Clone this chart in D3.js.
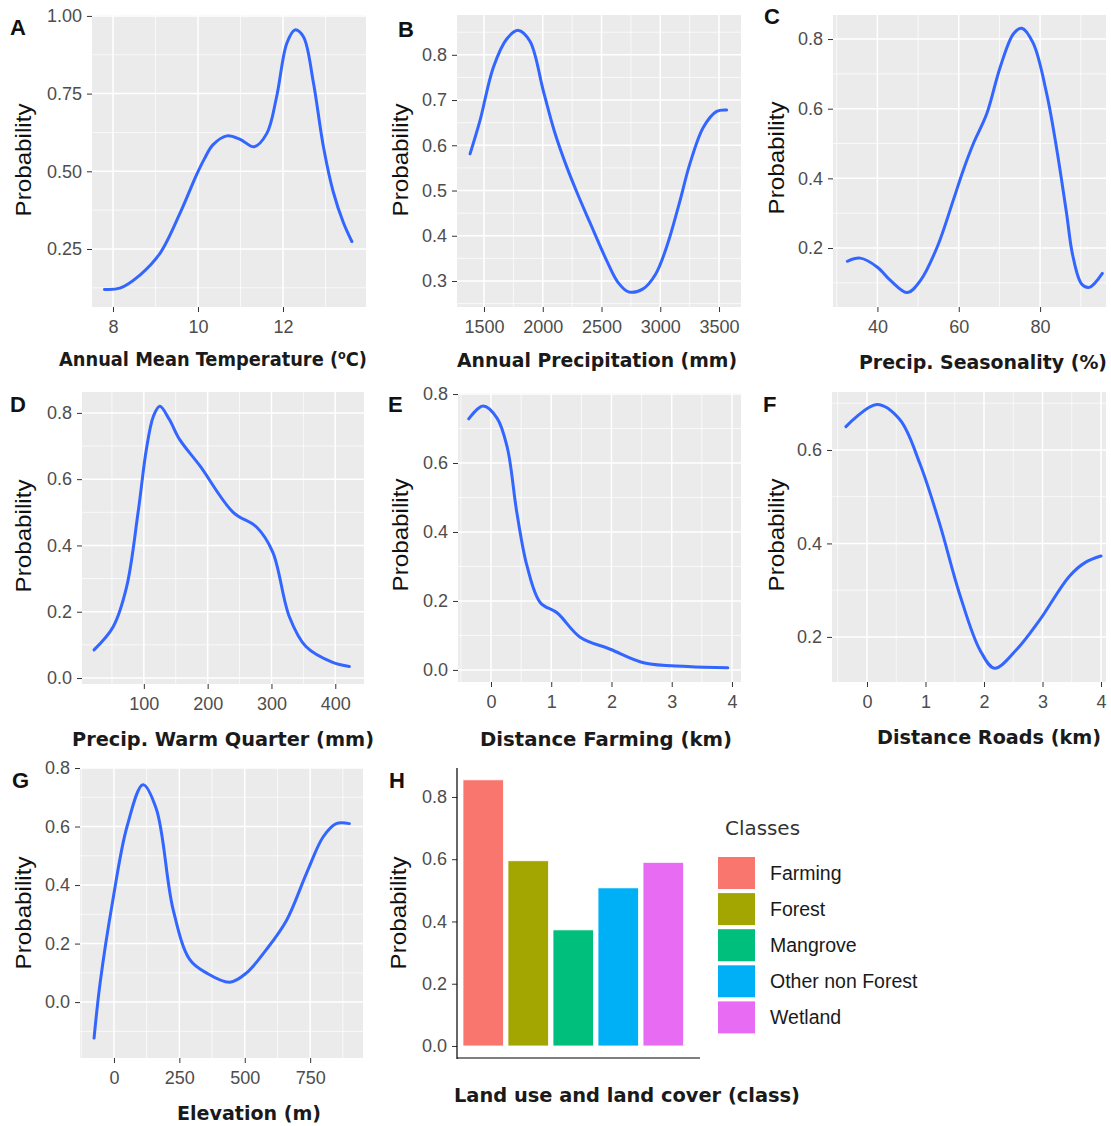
<!DOCTYPE html>
<html>
<head>
<meta charset="utf-8">
<script src="https://cdn.jsdelivr.net/npm/d3@7"></script>
<style>
  body { margin: 0; background: #fff; }
  .tick text { font-family: "Liberation Sans", Arial, sans-serif; fill: #4d4d4d; }
  .tick line { stroke: #333; }
  .xtitle { font-family: "DejaVu Sans Condensed", "DejaVu Sans", sans-serif; font-stretch: condensed; font-weight: bold; fill: #1a1a1a; }
  .ytitle { font-family: "Liberation Sans", Arial, sans-serif; fill: #111; }
  .letter { font-family: "Liberation Sans", Arial, sans-serif; font-weight: bold; fill: #111; }
</style>
</head>
<body>
<svg id="chart" width="1111" height="1126"></svg>
<script>
// A - annual mean temperature
var tempX = [7.8, 8.16, 8.64, 9.11, 9.58, 9.97, 10.15, 10.35, 10.68, 10.99, 11.32, 11.62, 11.85, 12.09, 12.28, 12.48, 12.71, 12.95, 13.18, 13.42, 13.62]
var tempY = [0.120, 0.124, 0.167, 0.237, 0.366, 0.49, 0.54, 0.585, 0.614, 0.603, 0.579, 0.622, 0.740, 0.912, 0.955, 0.933, 0.79, 0.58, 0.435, 0.335, 0.274]
// B - annual precipitation
var precX = [1381, 1466, 1579, 1693, 1792, 1891, 2005, 2100, 2200, 2300, 2400, 2544, 2640, 2730, 2850, 2960, 3060, 3160, 3253, 3367, 3480, 3565]
var precY = [0.581, 0.655, 0.772, 0.835, 0.854, 0.83, 0.72, 0.63, 0.555, 0.49, 0.43, 0.345, 0.297, 0.276, 0.282, 0.315, 0.38, 0.47, 0.56, 0.64, 0.675, 0.678]
// C - precipitation seasonality
var seasX = [32.6, 35.8, 40, 43.2, 47.4, 50.6, 54.7, 58.7, 61, 63.6, 66.9, 70.2, 73.5, 75.5, 78.3, 81.6, 84.1, 86.5, 88, 90.2, 92.1, 95.3]
var seasY = [0.162, 0.171, 0.145, 0.107, 0.072, 0.107, 0.203, 0.339, 0.42, 0.50, 0.586, 0.72, 0.816, 0.831, 0.788, 0.644, 0.483, 0.30, 0.18, 0.097, 0.087, 0.127]
// D - precipitation of warmest quarter
var warmX = [22, 52, 73, 91, 104, 115, 125, 140, 156, 188, 240, 277, 302, 328, 354, 395, 422]
var warmY = [0.085, 0.155, 0.275, 0.50, 0.69, 0.79, 0.82, 0.78, 0.72, 0.64, 0.50, 0.455, 0.38, 0.185, 0.095, 0.048, 0.035]
// E - distance to farming
var farmX = [-0.37, -0.13, 0.1, 0.27, 0.43, 0.6, 0.82, 1.1, 1.48, 1.98, 2.55, 3.27, 3.93]
var farmY = [0.728, 0.765, 0.73, 0.645, 0.455, 0.30, 0.195, 0.165, 0.095, 0.06, 0.02, 0.01, 0.006]
// F - distance to roads
var roadX = [-0.36, 0.17, 0.56, 0.9, 1.24, 1.58, 1.93, 2.18, 2.55, 2.95, 3.46, 3.74, 4.0]
var roadY = [0.65, 0.697, 0.665, 0.572, 0.443, 0.293, 0.172, 0.133, 0.172, 0.236, 0.33, 0.36, 0.373]
// G - elevation
var elevX = [-76, -53, -4, 50, 111, 162, 226, 290, 353, 443, 507, 583, 660, 736, 800, 850, 900]
var elevY = [-0.123, 0.065, 0.35, 0.6, 0.743, 0.66, 0.317, 0.145, 0.1, 0.068, 0.1, 0.18, 0.28, 0.44, 0.565, 0.61, 0.61]
// H - land use / land cover
var classes = ['Farming', 'Forest', 'Mangrove', 'Other non Forest', 'Wetland']
var classProb = [0.855, 0.595, 0.373, 0.508, 0.59]
var classColors = ['#F8766D', '#A3A500', '#00BF7D', '#00B0F6', '#E76BF3']

var svg = d3.select('#chart')

function minors(ticks, dom) {
    var step = ticks[1] - ticks[0]
    var out = []
    for (var i = -1; i < ticks.length; i++) {
        var v = ticks[0] + step * i + step / 2
        if (v > dom[0] && v < dom[1]) out.push(v)
    }
    return out
}

function panel(p) {
    var g = svg.append('g')
    var x = d3.scaleLinear().domain(p.xDom).range([p.box[0], p.box[1]])
    var y = d3.scaleLinear().domain(p.yDom).range([p.box[3], p.box[2]])

    g.append('rect')
        .attr('x', p.box[0]).attr('y', p.box[2])
        .attr('width', p.box[1] - p.box[0]).attr('height', p.box[3] - p.box[2])
        .attr('fill', '#ebebeb')

    // minor grid
    g.selectAll('.vmin').data(minors(p.xTicks, p.xDom)).enter().append('line')
        .attr('x1', x).attr('x2', x).attr('y1', p.box[2]).attr('y2', p.box[3])
        .attr('stroke', '#fff').attr('stroke-width', 0.7)
    g.selectAll('.hmin').data(minors(p.yTicks, p.yDom)).enter().append('line')
        .attr('y1', y).attr('y2', y).attr('x1', p.box[0]).attr('x2', p.box[1])
        .attr('stroke', '#fff').attr('stroke-width', 0.7)
    // major grid
    g.selectAll('.vmaj').data(p.xTicks).enter().append('line')
        .attr('x1', x).attr('x2', x).attr('y1', p.box[2]).attr('y2', p.box[3])
        .attr('stroke', '#fff').attr('stroke-width', 1.5)
    g.selectAll('.hmaj').data(p.yTicks).enter().append('line')
        .attr('y1', y).attr('y2', y).attr('x1', p.box[0]).attr('x2', p.box[1])
        .attr('stroke', '#fff').attr('stroke-width', 1.5)

    var ya = g.append('g').attr('transform', 'translate(' + p.box[0] + ',0)')
        .call(d3.axisLeft(y).tickValues(p.yTicks).tickSize(5).tickPadding(5).tickFormat(d3.format(p.yFmt)))
    var xa = g.append('g').attr('transform', 'translate(0,' + p.box[3] + ')')
        .call(d3.axisBottom(x).tickValues(p.xTicks).tickSize(5).tickPadding(8).tickFormat(d3.format(p.xFmt)))
    ya.select('.domain').remove()
    xa.select('.domain').remove()
    ya.selectAll('text').style('font-size', '18px')
    xa.selectAll('text').style('font-size', '18px')

    var pts = p.xs.map(function(v, i) { return [v, p.ys[i]] })
    var line = d3.line()
        .x(function(d) { return x(d[0]) })
        .y(function(d) { return y(d[1]) })
        .curve(d3.curveCatmullRom.alpha(0.5))
    g.append('path').attr('d', line(pts))
        .attr('fill', 'none').attr('stroke', '#3366ff').attr('stroke-width', 3)
        .attr('stroke-linecap', 'round')

    labels(p)
}

function labels(p) {
    svg.append('text').attr('class', 'letter')
        .attr('x', p.letterPos[0]).attr('y', p.letterPos[1])
        .style('font-size', '22px').text(p.letter)
    svg.append('text').attr('class', 'ytitle')
        .attr('transform', 'translate(' + p.yTitlePos[0] + ',' + p.yTitlePos[1] + ') rotate(-90)')
        .attr('text-anchor', 'middle').attr('dy', '0.35em')
        .attr('textLength', 113).attr('lengthAdjust', 'spacingAndGlyphs')
        .style('font-size', '22px').text('Probability')
    var t = svg.append('text').attr('class', 'xtitle')
        .attr('x', p.xTitlePos[0]).attr('y', p.xTitlePos[1])
        .attr('text-anchor', 'middle').style('font-size', '19px')
        .attr('textLength', p.xTitleLen).attr('lengthAdjust', 'spacingAndGlyphs')
    if (p.xTitle2) {
        t.append('tspan').text(p.xTitle)
        t.append('tspan').attr('dy', -7).style('font-size', '12px').text('o')
        t.append('tspan').attr('dy', 7).text(p.xTitle2)
    } else {
        t.text(p.xTitle)
    }
}

var panels = [
    { letter: 'A', letterPos: [10, 35], box: [92, 366, 15, 307], xDom: [7.506, 13.953], yDom: [0.0633, 1.003],
      xTicks: [8, 10, 12], yTicks: [0.25, 0.5, 0.75, 1.0], xFmt: 'd', yFmt: '.2f', xs: tempX, ys: tempY,
      xTitle: 'Annual Mean Temperature (', xTitle2: 'C)', xTitlePos: [213, 366], xTitleLen: 308, yTitlePos: [23, 160] },
    { letter: 'B', letterPos: [398, 37], box: [457, 741, 15, 307], xDom: [1270, 3687], yDom: [0.2425, 0.888],
      xTicks: [1500, 2000, 2500, 3000, 3500], yTicks: [0.3, 0.4, 0.5, 0.6, 0.7, 0.8], xFmt: 'd', yFmt: '.1f', xs: precX, ys: precY,
      xTitle: 'Annual Precipitation (mm)', xTitlePos: [597, 367], xTitleLen: 280, yTitlePos: [400, 160] },
    { letter: 'C', letterPos: [764, 24], box: [833, 1106, 15, 307], xDom: [29.08, 96.2], yDom: [0.0307, 0.869],
      xTicks: [40, 60, 80], yTicks: [0.2, 0.4, 0.6, 0.8], xFmt: 'd', yFmt: '.1f', xs: seasX, ys: seasY,
      xTitle: 'Precip. Seasonality (%)', xTitlePos: [983, 369], xTitleLen: 248, yTitlePos: [776, 158] },
    { letter: 'D', letterPos: [10, 412], box: [82, 364, 392, 684], xDom: [3.1, 445], yDom: [-0.018, 0.863],
      xTicks: [100, 200, 300, 400], yTicks: [0, 0.2, 0.4, 0.6, 0.8], xFmt: 'd', yFmt: '.1f', xs: warmX, ys: warmY,
      xTitle: 'Precip. Warm Quarter (mm)', xTitlePos: [223, 746], xTitleLen: 302, yTitlePos: [23, 536] },
    { letter: 'E', letterPos: [388, 412], box: [458, 741, 393, 682], xDom: [-0.548, 4.15], yDom: [-0.035, 0.803],
      xTicks: [0, 1, 2, 3, 4], yTicks: [0, 0.2, 0.4, 0.6, 0.8], xFmt: 'd', yFmt: '.1f', xs: farmX, ys: farmY,
      xTitle: 'Distance Farming (km)', xTitlePos: [606, 746], xTitleLen: 252, yTitlePos: [400, 535] },
    { letter: 'F', letterPos: [763, 412], box: [832, 1106, 392, 682], xDom: [-0.598, 4.085], yDom: [0.1035, 0.724],
      xTicks: [0, 1, 2, 3, 4], yTicks: [0.2, 0.4, 0.6], xFmt: 'd', yFmt: '.1f', xs: roadX, ys: roadY,
      xTitle: 'Distance Roads (km)', xTitlePos: [989, 744], xTitleLen: 224, yTitlePos: [776, 535] },
    { letter: 'G', letterPos: [12, 788], box: [80, 363, 768, 1058], xDom: [-129.8, 952], yDom: [-0.191, 0.8],
      xTicks: [0, 250, 500, 750], yTicks: [0, 0.2, 0.4, 0.6, 0.8], xFmt: 'd', yFmt: '.1f', xs: elevX, ys: elevY,
      xTitle: 'Elevation (m)', xTitlePos: [249, 1120], xTitleLen: 144, yTitlePos: [23, 913] }
]

panels.forEach(panel)

// H - bar chart
var hx = d3.scaleBand().domain(classes).range([456, 690.5]).paddingInner(0.1).paddingOuter(0.155)
var hy = d3.scaleLinear().domain([-0.0386, 0.893]).range([1058, 768])
var hc = d3.scaleOrdinal().domain(classes).range(classColors)
var gh = svg.append('g')

gh.selectAll('.bar').data(classes).enter().append('rect')
    .attr('x', function(d) { return hx(d) })
    .attr('width', hx.bandwidth())
    .attr('y', function(d, i) { return hy(classProb[i]) })
    .attr('height', function(d, i) { return hy(0) - hy(classProb[i]) })
    .attr('fill', function(d) { return hc(d) })
    .attr('stroke', '#fff').attr('stroke-width', 0.8)

var hya = gh.append('g').attr('transform', 'translate(457,0)')
    .call(d3.axisLeft(hy).tickValues([0, 0.2, 0.4, 0.6, 0.8]).tickSize(5).tickPadding(5).tickFormat(d3.format('.1f')))
hya.select('.domain').remove()
hya.selectAll('text').style('font-size', '18px')
gh.append('line').attr('x1', 457).attr('x2', 457).attr('y1', 768).attr('y2', 1059)
    .attr('stroke', '#000').attr('stroke-width', 1.2)
gh.append('line').attr('x1', 457).attr('x2', 700).attr('y1', 1058).attr('y2', 1058)
    .attr('stroke', '#000').attr('stroke-width', 1.2)

labels({ letter: 'H', letterPos: [389, 788], yTitlePos: [398, 913],
    xTitle: 'Land use and land cover (class)', xTitlePos: [627, 1102], xTitleLen: 346 })

// legend
var lg = svg.append('g')
lg.append('text').attr('x', 725).attr('y', 835)
    .attr('class', 'xtitle').style('font-weight', 'normal').style('fill', '#333').style('font-size', '19px')
    .attr('textLength', 75).attr('lengthAdjust', 'spacingAndGlyphs')
    .text('Classes')
lg.selectAll('.key').data(classes).enter().append('rect')
    .attr('x', 718).attr('y', function(d, i) { return 857 + i * 36.1 })
    .attr('width', 37).attr('height', 32)
    .attr('fill', function(d) { return hc(d) })
lg.selectAll('.lab').data(classes).enter().append('text')
    .attr('x', 770).attr('y', function(d, i) { return 873 + i * 36.1 })
    .attr('dy', '0.35em')
    .style('font-family', '"Liberation Sans", Arial, sans-serif').style('font-size', '19.5px').style('fill', '#1a1a1a')
    .text(function(d) { return d })
</script>
</body>
</html>
